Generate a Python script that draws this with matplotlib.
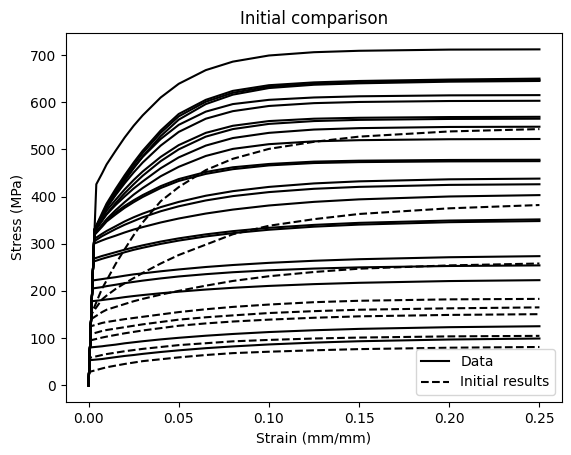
import matplotlib
matplotlib.use("Agg")
import matplotlib.pyplot as plt

# common strain grid (after the yield kink)
strain_grid = [0.0075, 0.01, 0.015, 0.02, 0.025, 0.03, 0.04, 0.05, 0.065, 0.08,
               0.1, 0.125, 0.15, 0.2, 0.25]

# ---- experimental data curves: yield strain, yield stress, stresses on grid ----
data_yield_strain = [0.0043, 0.0033, 0.0033, 0.0033, 0.0033, 0.0033, 0.0033, 0.00325,
                     0.0033, 0.0032, 0.0032, 0.00318, 0.0031, 0.00305, 0.0030,
                     0.00268, 0.00262, 0.00222, 0.00205, 0.00178, 0.0008, 0.00053]
data_yield_stress = [426, 330, 330, 330, 330, 330, 330, 325,
                     330, 320, 320, 318, 310, 305, 300,
                     268, 262, 222, 205, 178, 80, 53]
data_712 = [449, 468, 497, 525, 550, 572, 610, 639, 668, 686, 699, 706, 709, 711.5, 712]
data_650 = [365, 385, 416, 445, 472, 497, 540, 575, 605, 624, 636, 642, 645, 648, 650]
data_647 = [361, 380, 411, 440, 467, 492, 535, 570, 601, 620, 633, 639, 642, 645.5, 647]
data_645 = [358, 376, 405, 433, 460, 485, 528, 563, 596, 616, 630, 637, 640, 643.5, 645]
data_615 = [361, 380, 409, 436, 461, 484, 522, 552, 580, 596, 605, 610, 612.5, 614.5, 615]
data_603 = [358, 376, 403, 428, 451, 472, 508, 537, 565, 581, 592, 598, 600.5, 602.5, 603]
data_569 = [354, 370, 393, 415, 435, 453, 484, 509, 535, 550, 560, 565, 567, 568.5, 569]
data_565 = [348, 363, 386, 407, 426, 444, 475, 500, 527, 543, 554, 560, 562.5, 564.5, 565]
data_548 = [350, 362, 382, 400, 417, 432, 460, 483, 508, 524, 535, 542, 545, 547.5, 548]
data_522 = [340, 352, 371, 388, 404, 418, 443, 463, 486, 501, 511, 517, 519.5, 521.5, 522]
data_478 = [339, 350, 366, 380, 392, 403, 422, 437, 452, 462, 469, 474, 476, 477.5, 478]
data_475 = [336, 347, 362, 376, 388, 399, 418, 433, 448, 458, 466, 471, 473, 474.5, 475]
data_438 = [321, 326.9, 337, 347.2, 356, 363.8, 377.5, 388.6, 401.7, 411.4, 420.4, 427.8, 432.2, 436.5, 438]
data_426 = [316, 321, 331, 340.1, 348, 355.9, 368.8, 379.3, 391.7, 400.9, 409.4, 416.4, 420.5, 424.7, 426]
data_403 = [307, 310.6, 317, 323.8, 330, 335.2, 345, 353.4, 363.9, 372.3, 381, 388.7, 394, 400.1, 403]
data_352 = [274, 276.6, 282, 287.3, 292, 296.5, 304.5, 311.3, 319.8, 326.6, 333.7, 339.9, 344.2, 349.1, 351.5]
data_348 = [268, 270.8, 276, 281.8, 287, 291.4, 299.6, 306.6, 315.4, 322.4, 329.6, 336.1, 340.5, 345.6, 348]
data_274 = [225, 226.4, 229, 232.1, 235, 237.1, 241.5, 245.4, 250.6, 254.8, 259.4, 263.8, 267.1, 271.3, 273.6]
data_254 = [208, 210, 213, 216.3, 219, 221.7, 226.4, 230.5, 235.4, 239.5, 243.6, 247.3, 249.8, 252.7, 254]
data_223 = [180.5, 181.8, 184, 186.7, 189, 191.1, 194.9, 198.3, 202.8, 206.5, 210.5, 214.3, 217.1, 220.8, 222.7]
data_125 = [82.5, 83.8, 86, 88.8, 91, 93.2, 97.1, 100.5, 104.9, 108.6, 112.7, 116.5, 119.4, 123, 125]
data_99 = [55.5, 56.9, 59.5, 62, 64, 66.4, 70.4, 73.9, 78.5, 82.2, 86.4, 90.3, 93.2, 96.9, 99]

data_curves = [data_712, data_650, data_647, data_645, data_615, data_603, data_569,
               data_565, data_548, data_522, data_478, data_475, data_438, data_426,
               data_403, data_352, data_348, data_274, data_254, data_223, data_125, data_99]

# ---- initial simulation results ----
init_yield_strain = [0.0015, 0.0015, 0.0014, 0.00125, 0.0011, 0.00095, 0.0006, 0.0003]
init_yield_stress = [150, 150, 140, 125, 108, 95, 58, 28]
init_543 = [205, 222, 257, 288, 318, 345, 390, 420, 456, 480, 501, 516, 527, 538, 543]
init_382 = [182, 190, 204, 216, 227, 238, 258, 276, 298, 320, 338, 352, 363, 375, 382]
init_258 = [155, 160, 166, 172, 178, 183, 192, 200, 211, 221, 231, 240, 247, 254, 258]
init_183 = [132, 134, 137, 140, 142.5, 145, 150, 155, 161, 166, 171, 176, 179, 182, 183]
init_165 = [115, 117, 120, 123, 126, 129, 134, 139, 144, 148, 153, 157, 160, 163, 165]
init_151 = [101, 103, 106.5, 110, 113, 116, 121, 126, 131, 135, 139, 143, 146, 149, 150.6]
init_105 = [64, 66, 69, 72, 74.5, 77, 81, 85, 89, 93, 96, 99, 101, 103.5, 104.6]
init_81 = [35.5, 38, 41.5, 45, 48, 51, 55, 59, 64, 68, 71, 74, 76.5, 79.5, 81]

init_curves = [init_543, init_382, init_258, init_183, init_165, init_151, init_105, init_81]

fig = plt.figure(figsize=(5.71, 4.55), dpi=100)
ax = fig.add_subplot(111)
fig.subplots_adjust(left=0.1156, right=0.9842, bottom=0.1165, top=0.9284)

for i, vals in enumerate(data_curves):
    xs = [0.0, data_yield_strain[i]] + strain_grid
    ys = [0.0, data_yield_stress[i]] + vals
    ax.plot(xs, ys, color="black", linestyle="-", label="Data" if i == 0 else None)

for i, vals in enumerate(init_curves):
    xs = [0.0, init_yield_strain[i]] + strain_grid
    ys = [0.0, init_yield_stress[i]] + vals
    ax.plot(xs, ys, color="black", linestyle="--", label="Initial results" if i == 0 else None)

ax.set_title("Initial comparison")
ax.set_xlabel("Strain (mm/mm)")
ax.set_ylabel("Stress (MPa)")
ax.legend(loc="lower right")

fig.savefig("out.png", dpi=100)
